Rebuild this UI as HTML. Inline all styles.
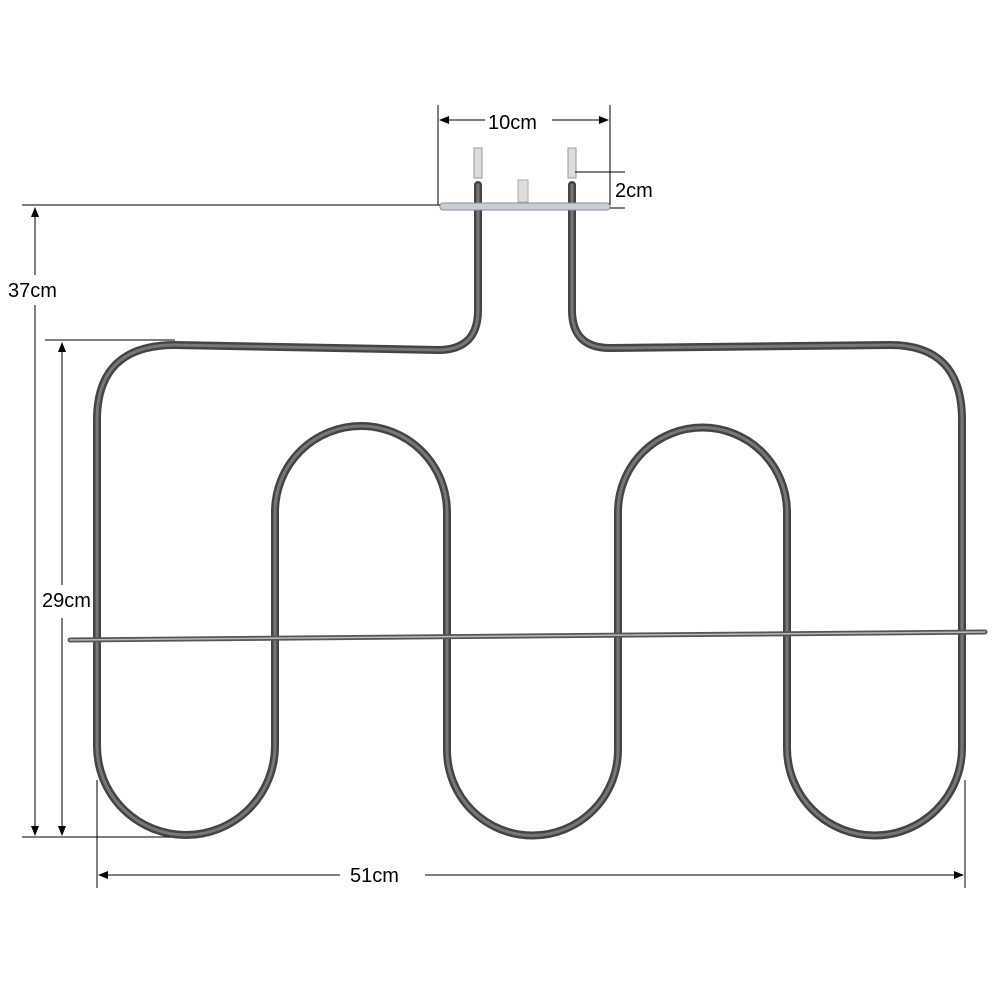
<!DOCTYPE html>
<html><head><style>html,body{margin:0;background:#fff}svg{display:block}</style></head>
<body>
<svg width="1000" height="1000" viewBox="0 0 1000 1000" xmlns="http://www.w3.org/2000/svg">
<defs><marker id="a" markerWidth="10" markerHeight="8" refX="9" refY="4" orient="auto-start-reverse" markerUnits="userSpaceOnUse"><path d="M0,0 L10,4 L0,8 z" fill="#000"/></marker></defs>
<g fill="none" stroke-linecap="round" stroke-linejoin="round">
<path d="M478,185 L478,310 Q478,350 438,350 L175,345 Q97,345 97,420 L97,746 A89,89 0 0 0 275,746 L275,512 A86,86 0 0 1 447,512 L447,750 A85.5,85.5 0 0 0 618,750 L618,512 A84.5,84.5 0 0 1 787,512 L787,748 A87.5,87.5 0 0 0 962,748 L962,420 Q962,345 890,345 L610,348 Q572,348 572,310 L572,185" stroke="#444" stroke-width="8"/>
<path d="M478,185 L478,310 Q478,350 438,350 L175,345 Q97,345 97,420 L97,746 A89,89 0 0 0 275,746 L275,512 A86,86 0 0 1 447,512 L447,750 A85.5,85.5 0 0 0 618,750 L618,512 A84.5,84.5 0 0 1 787,512 L787,748 A87.5,87.5 0 0 0 962,748 L962,420 Q962,345 890,345 L610,348 Q572,348 572,310 L572,185" stroke="#777" stroke-width="3"/>
<path d="M70,640 L985,632" stroke="#555" stroke-width="5"/>
<path d="M70,640 L985,632" stroke="#bbb" stroke-width="1.5"/>
</g>
<rect x="474" y="148" width="8" height="30" fill="#ddd" stroke="#999"/>
<rect x="568" y="148" width="8" height="30" fill="#ddd" stroke="#999"/>
<rect x="518" y="180" width="10" height="22" fill="#ddd" stroke="#aaa"/>
<rect x="440" y="203" width="170" height="7" rx="3" fill="#c9ced4" stroke="#8a9098"/>
<g stroke="#000" stroke-width="1" fill="none">
<line x1="438" y1="105" x2="438" y2="205"/><line x1="610" y1="105" x2="610" y2="205"/>
<line x1="440" y1="120" x2="485" y2="120" marker-start="url(#a)"/><line x1="552" y1="120" x2="608" y2="120" marker-end="url(#a)"/>
<line x1="575" y1="172" x2="625" y2="172"/><line x1="610" y1="208" x2="625" y2="208"/>
<line x1="22" y1="205" x2="440" y2="205"/>
<line x1="35" y1="275" x2="35" y2="208" marker-end="url(#a)"/><line x1="35" y1="305" x2="35" y2="835" marker-end="url(#a)"/>
<line x1="22" y1="837" x2="170" y2="837"/>
<line x1="45" y1="340" x2="175" y2="340"/>
<line x1="62" y1="585" x2="62" y2="343" marker-end="url(#a)"/><line x1="62" y1="618" x2="62" y2="835" marker-end="url(#a)"/>
<line x1="97" y1="780" x2="97" y2="888"/><line x1="965" y1="780" x2="965" y2="888"/>
<line x1="340" y1="875" x2="99" y2="875" marker-end="url(#a)"/><line x1="425" y1="875" x2="963" y2="875" marker-end="url(#a)"/>
</g>
<g font-family="Liberation Sans, sans-serif" font-size="20" fill="#000">
<text x="488" y="129">10cm</text>
<text x="615" y="197">2cm</text>
<text x="8" y="297">37cm</text>
<text x="42" y="607">29cm</text>
<text x="350" y="882">51cm</text>
</g>
</svg>
</body></html>
